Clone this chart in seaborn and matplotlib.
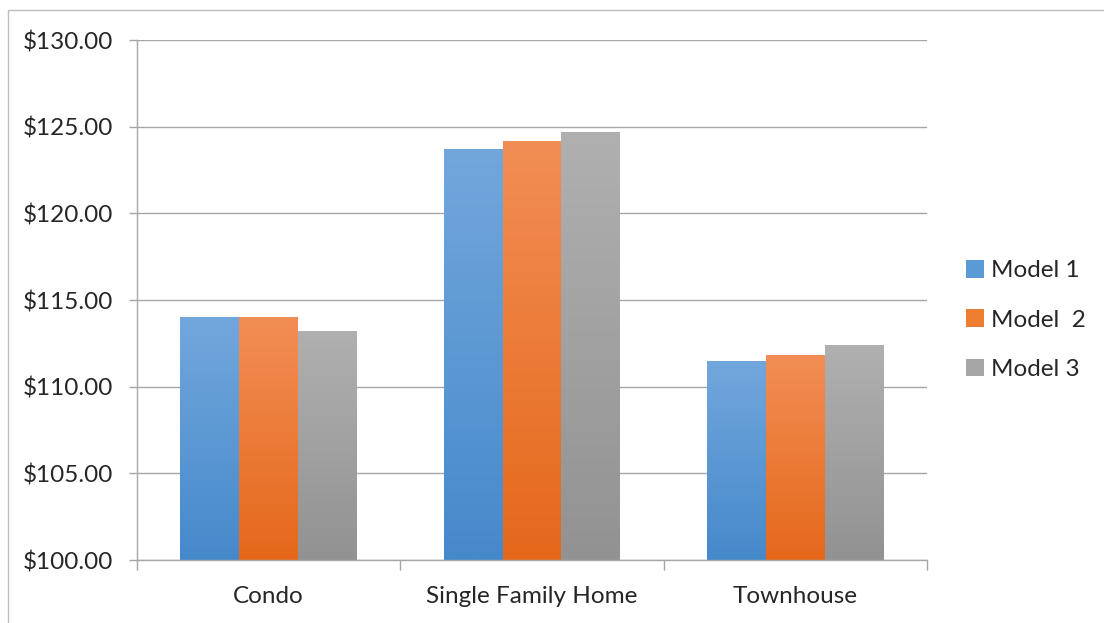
import numpy as np
import pandas as pd
import seaborn as sns
import matplotlib.pyplot as plt
from matplotlib.patches import Rectangle, Patch
from matplotlib.colors import LinearSegmentedColormap

# data
home_types = ["Condo", "Single Family Home", "Townhouse"]
models = ["Model 1", "Model  2", "Model 3"]
model1 = [114.0, 123.7, 111.5]
model2 = [114.0, 124.2, 111.8]
model3 = [113.2, 124.7, 112.4]

# top / bottom gradient colours per model
tops = ["#72A7DC", "#F28E55", "#B0B0B0"]
bottoms = ["#4689CB", "#E5681A", "#929292"]
mids = ["#5B9BD5", "#ED7D31", "#A5A5A5"]

df = pd.DataFrame({
    "type": home_types * 3,
    "model": [m for m in models for _ in home_types],
    "price": model1 + model2 + model3,
})

sns.set_style("white")
plt.rcParams["font.family"] = ["Lato", "DejaVu Sans"]

fig = plt.figure(figsize=(11.04, 6.23), dpi=100)
W, H = 1104, 623
ax = fig.add_axes([137 / W, (H - 560) / H, 790 / W, 520 / H])

sns.barplot(data=df, x="type", y="price", hue="model", palette=mids,
            width=0.672, ax=ax, legend=False, saturation=1)

ax.set_ylim(100, 130)
ax.set_xlim(-0.5, 2.5)

# gradient fill on each bar
for i, p in enumerate(ax.patches):
    k = i // len(home_types)
    x0, w = p.get_x(), p.get_width()
    y1 = p.get_y() + p.get_height()
    cmap = LinearSegmentedColormap.from_list("g", [bottoms[k], tops[k]])
    grad = np.linspace(0, 1, 256).reshape(-1, 1)
    im = ax.imshow(grad, cmap=cmap, origin="lower", aspect="auto",
                   extent=[x0, x0 + w, 100, y1], zorder=2)
    im.set_clip_path(p)
    p.set_facecolor("none")
    p.set_edgecolor("none")

ax.set_xlim(-0.5, 2.5)
ax.set_ylim(100, 130)

grid_c = "#A6A6A6"
ax.set_yticks(np.arange(100, 131, 5))
ax.set_yticklabels([f"${v:,.2f}" for v in np.arange(100, 131, 5)], fontsize=17.5)
ax.yaxis.grid(True, color=grid_c, linewidth=1)
ax.set_axisbelow(True)
ax.tick_params(axis="y", length=6, width=1, color=grid_c, pad=11, left=True)

ax.set_xticks([-0.5, 0.5, 1.5, 2.5])
ax.set_xticklabels([])
ax.set_xticks([0, 1, 2], minor=True)
ax.set_xticklabels(home_types, minor=True, fontsize=17.5)
ax.tick_params(axis="x", which="major", length=7, width=1, color=grid_c, bottom=True)
ax.tick_params(axis="x", which="minor", length=0, pad=19)

ax.set_xlabel("")
ax.set_ylabel("")
for s in ["top", "right"]:
    ax.spines[s].set_visible(False)
for s in ["left", "bottom"]:
    ax.spines[s].set_color(grid_c)
    ax.spines[s].set_linewidth(1)

handles = [Patch(facecolor=c, edgecolor="none") for c in mids]
fig.legend(handles, models, loc="center left", bbox_to_anchor=(944 / W, 1 - 320 / H),
           frameon=False, fontsize=17.5, handlelength=0.75, handleheight=0.75,
           handletextpad=0.3, labelspacing=1.15)

# outer chart border
fig.patches.append(Rectangle((8 / W, -0.1), 1.2, 1 - 10 / H + 0.1,
                             transform=fig.transFigure, fill=False,
                             edgecolor="#BFBFBF", linewidth=1))

fig.savefig("out.png", dpi=100)
